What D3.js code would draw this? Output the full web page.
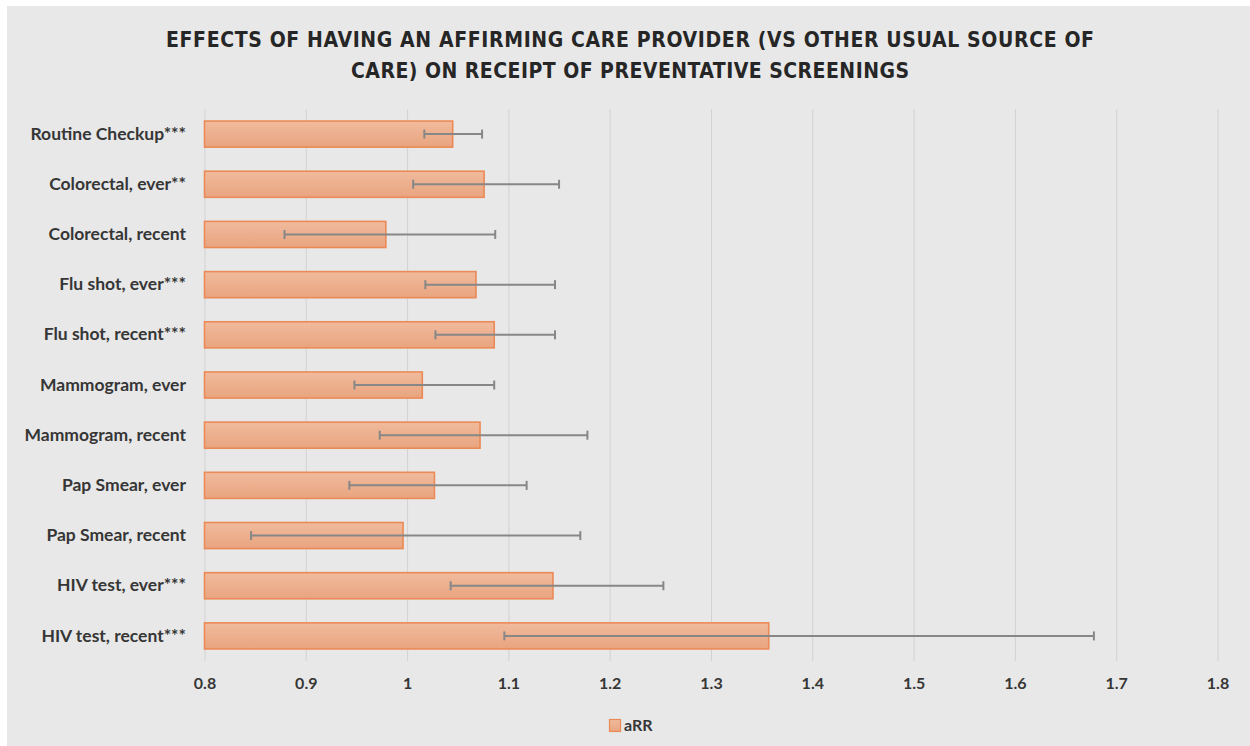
<!DOCTYPE html>
<html>
<head>
<meta charset="utf-8">
<script src="https://cdn.jsdelivr.net/npm/d3@7"></script>
<style>
  html, body { margin: 0; padding: 0; background: #ffffff; }
  svg { display: block; }
</style>
</head>
<body>
<svg id="chart" width="1250" height="746"></svg>
<script>
const categories = [
  "Routine Checkup***",
  "Colorectal, ever**",
  "Colorectal, recent",
  "Flu shot, ever***",
  "Flu shot, recent***",
  "Mammogram, ever",
  "Mammogram, recent",
  "Pap Smear, ever",
  "Pap Smear, recent",
  "HIV test, ever***",
  "HIV test, recent***"
];
const aRR   = [1.045, 1.076, 0.979, 1.068, 1.086, 1.015, 1.072, 1.027, 0.996, 1.144, 1.357];
const lower = [1.017, 1.006, 0.879, 1.018, 1.028, 0.948, 0.973, 0.943, 0.846, 1.043, 1.096];
const upper = [1.074, 1.150, 1.087, 1.146, 1.146, 1.086, 1.178, 1.118, 1.171, 1.253, 1.678];
const xTicks = [0.8, 0.9, 1.0, 1.1, 1.2, 1.3, 1.4, 1.5, 1.6, 1.7, 1.8];
const titleLines = [
  "EFFECTS OF HAVING AN AFFIRMING CARE PROVIDER (VS OTHER USUAL SOURCE OF",
  "CARE) ON RECEIPT OF PREVENTATIVE SCREENINGS"
];
const titleWidths = [928, 558];
const legendLabel = "aRR";

const rows = categories.map((c, i) => ({ cat: c, v: aRR[i], lo: lower[i], hi: upper[i] }));

const svg = d3.select("#chart");
const labelFont = "Lato, 'Open Sans', sans-serif";
const titleFont = "'Liberation Sans Narrow', 'DejaVu Sans Condensed', 'Arial Narrow', sans-serif";
const textColor = "#363636";

// background panel
svg.append("rect").attr("x", 7).attr("y", 6).attr("width", 1243).attr("height", 740)
  .attr("fill", "#e8e8e8");

const defs = svg.append("defs");
const grad = defs.append("linearGradient").attr("id", "barGrad")
  .attr("x1", 0).attr("y1", 0).attr("x2", 0).attr("y2", 1);
grad.append("stop").attr("offset", "0%").attr("stop-color", "#f0bb9d");
grad.append("stop").attr("offset", "100%").attr("stop-color", "#e9a47f");

const x = d3.scaleLinear().domain([0.8, 1.8]).range([204.5, 1217.5]);
const y = d3.scaleBand().domain(categories).range([109, 661]).paddingInner(0.48).paddingOuter(0.24);

// gridlines via axis
const grid = svg.append("g").attr("transform", "translate(0,661)")
  .call(d3.axisBottom(x).tickValues(xTicks).tickSize(-(661 - 109)).tickFormat(""));
grid.select(".domain").remove();
grid.selectAll(".tick line").attr("stroke", "#d2d2d2").attr("stroke-width", 1);

// tick labels via axis
const xa = svg.append("g").attr("transform", "translate(0,675)")
  .call(d3.axisBottom(x).tickValues(xTicks).tickSize(0).tickFormat(d3.format("~g")));
xa.select(".domain").remove();
xa.selectAll("text").attr("font-family", labelFont).attr("font-weight", "bold")
  .attr("font-size", 16).attr("fill", textColor);

// category labels
const ya = svg.append("g").attr("transform", "translate(186,0)")
  .call(d3.axisLeft(y).tickSize(0).tickPadding(0));
ya.select(".domain").remove();
ya.selectAll("text").attr("font-family", labelFont).attr("font-weight", "bold")
  .attr("font-size", 17.5).attr("fill", textColor);

// bars
svg.append("g").selectAll("rect").data(rows).join("rect")
  .attr("x", x(0.8))
  .attr("y", d => y(d.cat))
  .attr("width", d => x(d.v) - x(0.8))
  .attr("height", y.bandwidth())
  .attr("fill", "url(#barGrad)")
  .attr("stroke", "#eb8a56")
  .attr("stroke-width", 1.6);

// error bars
const eb = svg.append("g").attr("stroke", "#878787").attr("stroke-width", 2);
eb.selectAll("line.main").data(rows).join("line").attr("class", "main")
  .attr("x1", d => x(d.lo)).attr("x2", d => x(d.hi))
  .attr("y1", d => y(d.cat) + y.bandwidth() / 2).attr("y2", d => y(d.cat) + y.bandwidth() / 2);
eb.selectAll("line.lo").data(rows).join("line").attr("class", "lo")
  .attr("x1", d => x(d.lo)).attr("x2", d => x(d.lo))
  .attr("y1", d => y(d.cat) + y.bandwidth() / 2 - 4.5).attr("y2", d => y(d.cat) + y.bandwidth() / 2 + 4.5);
eb.selectAll("line.hi").data(rows).join("line").attr("class", "hi")
  .attr("x1", d => x(d.hi)).attr("x2", d => x(d.hi))
  .attr("y1", d => y(d.cat) + y.bandwidth() / 2 - 4.5).attr("y2", d => y(d.cat) + y.bandwidth() / 2 + 4.5);

// title
svg.append("g").selectAll("text").data(titleLines).join("text")
  .attr("x", 630)
  .attr("y", (d, i) => 47 + i * 31)
  .attr("text-anchor", "middle")
  .attr("font-family", titleFont)
  .attr("font-weight", "bold")
  .attr("font-size", 21)
  .attr("textLength", (d, i) => titleWidths[i])
  .attr("lengthAdjust", "spacing")
  .attr("fill", "#262626")
  .text(d => d);

// legend
const lg = svg.append("g");
lg.append("rect").attr("x", 609.5).attr("y", 719.5).attr("width", 11).attr("height", 12)
  .attr("fill", "url(#barGrad)").attr("stroke", "#eb8a56").attr("stroke-width", 1.2);
lg.append("text").attr("x", 624).attr("y", 731)
  .attr("font-family", labelFont).attr("font-weight", "bold").attr("font-size", 16)
  .attr("fill", textColor).text(legendLabel);
</script>
</body>
</html>
